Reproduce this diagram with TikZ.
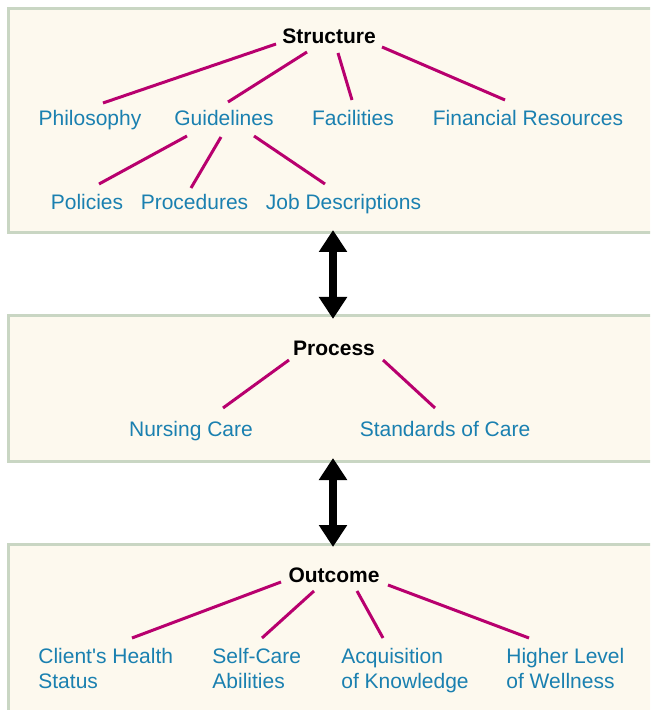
\documentclass[tikz,border=0pt]{standalone}
\usepackage{fontspec}
\setmainfont{Liberation Sans}
\usepackage{tikz}
\usetikzlibrary{arrows.meta,calc}

\definecolor{panelfill}{HTML}{FDF9EE}
\definecolor{paneledge}{HTML}{C9D6C3}
\definecolor{itemblue}{HTML}{1A80B0}
\definecolor{linkred}{HTML}{B8006E}

\begin{document}
\begin{tikzpicture}[x=0.5pt,y=-0.5pt,font=\fontsize{10.5}{12.5}\selectfont]
		\tikzstyle{panel}=[rectangle, draw=paneledge, fill=panelfill, line width=1.5pt, minimum width=325pt, outer sep=0pt]
		\tikzstyle{head}=[inner sep=0pt, anchor=base, font=\fontsize{10.5}{12.5}\selectfont\bfseries]
		\tikzstyle{item}=[inner sep=0pt, anchor=base, text=itemblue]
		\tikzstyle{item two}=[inner sep=0pt, anchor=north west, align=left, text=itemblue]
		\tikzstyle{link}=[draw=linkred, line width=1.5pt]
		\tikzstyle{both ways}=[{Triangle[width=13.5pt,length=11pt]}-{Triangle[width=13.5pt,length=11pt]}, line width=4pt, shorten <=-1.5pt, shorten >=-1.5pt]

		\useasboundingbox (0,0) rectangle (650,710);
		\clip (0,0) rectangle (650,710);

		% the three panels
		\node [panel, minimum height=112pt] (top) at (333,121) {};
		\node [panel, minimum height=72.5pt] (mid) at (333,388.5) {};
		\node [panel, minimum height=90pt] (bot) at (333,634) {};

		\draw [both ways] (top.south) -- (mid.north);
		\draw [both ways] (mid.south) -- (bot.north);

		% structure
		\node [head] (struct) at (329,44) {Structure};
		\node [item] (phil) at (90,126) {Philosophy};
		\node [item] (guide) at (224,126) {Guidelines};
		\node [item] (fac) at (353,126) {Facilities};
		\node [item] (fin) at (528,126) {Financial Resources};
		\node [item] (pol) at (87,210) {Policies};
		\node [item] (proc) at (194.5,210) {Procedures};
		\node [item] (job) at (343.5,210) {Job Descriptions};

		\draw [link] ($(struct.base)+(-53,0)$) -- ($(phil.base)+(13,-23)$);
		\draw [link] ($(struct.base)+(-22,8)$) -- ($(guide.base)+(4,-24)$);
		\draw [link] ($(struct.base)+(9,9)$) -- ($(fac.base)+(-1,-26)$);
		\draw [link] ($(struct.base)+(53,3)$) -- ($(fin.base)+(-23,-26)$);
		\draw [link] ($(guide.base)+(-37,10)$) -- ($(pol.base)+(12,-26)$);
		\draw [link] ($(guide.base)+(-3,11)$) -- ($(proc.base)+(-3.5,-22)$);
		\draw [link] ($(guide.base)+(30,10)$) -- ($(job.base)+(-18.5,-26)$);

		% process
		\node [head] (process) at (334,355) {Process};
		\node [item] (nurs) at (191,436) {Nursing Care};
		\node [item] (stand) at (445,436) {Standards of Care};

		\draw [link] ($(process.base)+(-45,5)$) -- ($(nurs.base)+(32,-28)$);
		\draw [link] ($(process.base)+(49,5)$) -- ($(stand.base)+(-10,-28)$);

		% outcome
		\node [head] (outc) at (334,582) {Outcome};
		\node [item two] (health) at (38,648) {Client\textquotesingle s Health\\Status};
		\node [item two] (self) at (212,648) {Self-Care\\Abilities};
		\node [item two] (acq) at (341,648) {Acquisition\\of Knowledge};
		\node [item two] (well) at (506,648) {Higher Level\\of Wellness};

		\draw [link] ($(outc.base)+(-53,0)$) -- ($(health.north west)+(94,-10)$);
		\draw [link] ($(outc.base)+(-20,9)$) -- ($(self.north west)+(50,-10)$);
		\draw [link] ($(outc.base)+(23,9)$) -- ($(acq.north west)+(42,-10)$);
		\draw [link] ($(outc.base)+(54,3)$) -- ($(well.north west)+(23,-10)$);
	\end{tikzpicture}
\end{document}
